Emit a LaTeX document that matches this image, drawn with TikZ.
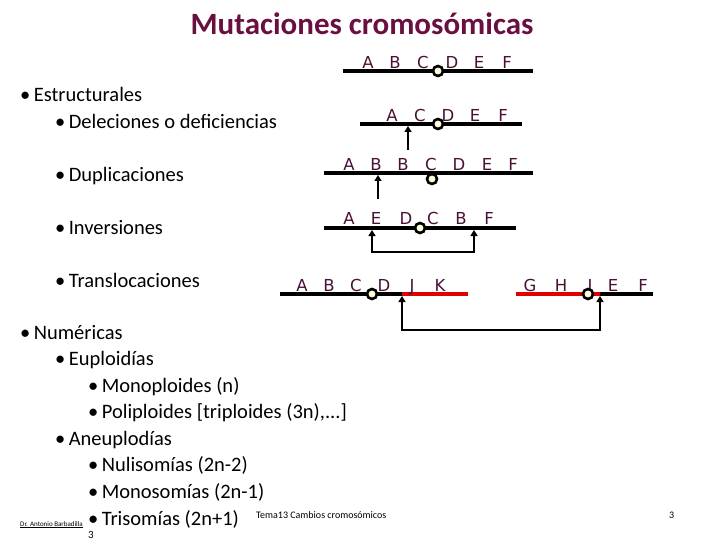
\documentclass[tikz,border=0pt]{standalone}
\usepackage{fontspec}
\usetikzlibrary{arrows.meta}
\setmainfont{Carlito}
\newfontfamily\chrfont{DejaVu Sans}
\definecolor{titlec}{HTML}{6A1040}
\definecolor{letc}{HTML}{4A1035}
\definecolor{cenc}{HTML}{FFFBD8}
\definecolor{redc}{HTML}{E00000}
\begin{document}
\begin{tikzpicture}[x=1pt,y=-1pt,
  chr/.style={line width=4.5pt},
  redchr/.style={line width=4.5pt,draw=redc},
  cen/.style={circle,draw=black,line width=2.6pt,fill=cenc,inner sep=0pt,minimum size=10pt},
  let/.style={font=\chrfont\fontsize{16.5}{16}\selectfont,text=letc,inner sep=0pt,anchor=base},
  txt/.style={font=\fontsize{20.5}{22}\selectfont,anchor=base west,inner sep=0pt},
  arr/.style={line width=2.5pt,-{Triangle[length=6pt,width=7pt]}},
  brk/.style={line width=2.5pt,{Triangle[length=6pt,width=7pt]}-{Triangle[length=6pt,width=7pt]}}]
\useasboundingbox (0,0) rectangle (720,540);
\node[font=\bfseries\fontsize{31}{34}\selectfont,text=titlec] (title) at (362,24) {Mutaciones cromosómicas};
% left text
\node[txt] (t1) at (20,102) {•\,Estructurales};
\node[txt] (t2) at (55,129) {•\,Deleciones o deficiencias};
\node[txt] (t3) at (55,182) {•\,Duplicaciones};
\node[txt] (t4) at (55,234) {•\,Inversiones};
\node[txt] (t5) at (55,287) {•\,Translocaciones};
\node[txt] (t6) at (20,339) {•\,Numéricas};
\node[txt] (t7) at (55,365) {•\,Euploidías};
\node[txt] (t8) at (88,392) {•\,Monoploides (n)};
\node[txt] (t9) at (88,418) {•\,Poliploides [triploides (3n),...]};
\node[txt] (t10) at (55,445) {•\,Aneuplodías};
\node[txt] (t11) at (88,471) {•\,Nulisomías (2n-2)};
\node[txt] (t12) at (88,498) {•\,Monosomías (2n-1)};
\node[txt] (t13) at (88,525) {•\,Trisomías (2n+1)};
% footer
\node[font=\fontsize{7}{8}\selectfont,anchor=base west,inner sep=0pt] (f1) at (20,526) {\underline{Dr. Antonio Barbadilla}};
\node[font=\fontsize{11}{12}\selectfont,anchor=base west,inner sep=0pt] (f2) at (88,538) {3};
\node[font=\fontsize{10}{12}\selectfont,anchor=base west,inner sep=0pt] (f3) at (256,518) {Tema13 Cambios cromosómicos};
\node[font=\fontsize{10}{12}\selectfont,anchor=base west,inner sep=0pt] (f4) at (669,518) {3};
% chromosome 1
\coordinate (c1a) at (343,71); \coordinate (c1b) at (533,71);
\draw[chr] (c1a) -- (c1b);
\foreach \l/\x in {A/368,B/395,C/423,D/452,E/479,F/507} \node[let] at (\x,69) {\l};
\node[cen] (k1) at (438,71) {};
% chromosome 2
\coordinate (c2a) at (360,124); \coordinate (c2b) at (522,124);
\draw[chr] (c2a) -- (c2b);
\foreach \l/\x in {A/392,C/420,D/448,E/475,F/503} \node[let] at (\x,122) {\l};
\node[cen] (k2) at (438,124) {};
\coordinate (a2s) at (408,150); \coordinate (a2e) at (408,126);
\draw[arr] (a2s) -- (a2e);
% chromosome 3
\coordinate (c3a) at (324,173); \coordinate (c3b) at (533,173);
\draw[chr] (c3a) -- (c3b);
\foreach \l/\x in {A/349,B/376,B/403,C/431,D/459,E/487,F/513} \node[let] at (\x,171) {\l};
\node[cen] (k3) at (432,179) {};
\coordinate (a3s) at (378,199); \coordinate (a3e) at (378,175);
\draw[arr] (a3s) -- (a3e);
% chromosome 4
\coordinate (c4a) at (324,228); \coordinate (c4b) at (516,228);
\draw[chr] (c4a) -- (c4b);
\foreach \l/\x in {A/349,E/376,D/406,C/433,B/461,F/489} \node[let] at (\x,225) {\l};
\node[cen] (k4) at (420,228) {};
\coordinate (b4a) at (372,230); \coordinate (b4b) at (474,230);
\draw[brk] (b4a) |- (423,252) -| (b4b);
% chromosome 5
\coordinate (c5a) at (280,294); \coordinate (c5b) at (402,294); \coordinate (c5c) at (468,294);
\draw[chr] (c5a) -- (c5b);
\draw[redchr] (c5b) -- (c5c);
\coordinate (c5d) at (516,294); \coordinate (c5e) at (600,294); \coordinate (c5f) at (653,294);
\draw[redchr] (c5d) -- (c5e);
\draw[chr] (c5e) -- (c5f);
\foreach \l/\x in {A/302,B/329,C/356,D/384,J/412,K/440,G/530,H/561,I/590,E/613,F/643} \node[let] at (\x,291) {\l};
\node[cen] (k5) at (372,294) {};
\node[cen] (k6) at (588,294) {};
\coordinate (b5a) at (402,296); \coordinate (b5b) at (600,296);
\draw[brk] (b5a) |- (500,330) -| (b5b);
\end{tikzpicture}
\end{document}
